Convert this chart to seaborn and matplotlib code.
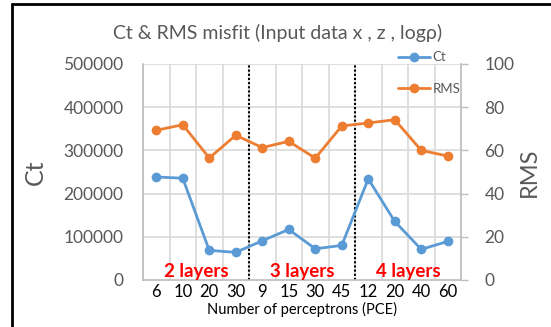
import numpy as np
import pandas as pd
import matplotlib
matplotlib.use("Agg")
import matplotlib.pyplot as plt
import seaborn as sns
from matplotlib.lines import Line2D

categories = ["6", "10", "20", "30", "9", "15", "30", "45", "12", "20", "40", "60"]
ct_values = [238500, 235600, 68600, 64000, 90800, 117000, 72300, 80100, 234000, 135600, 70900, 89400]
rms_values = [69.3, 71.9, 56.5, 67.0, 61.3, 64.2, 56.4, 71.3, 72.7, 74.2, 60.0, 57.4]
group_labels = ["2 layers", "3 layers", "4 layers"]
group_sizes = [4, 4, 4]
ct_ticks = [0, 100000, 200000, 300000, 400000, 500000]
rms_ticks = [0, 20, 40, 60, 80, 100]

sns.set_theme(style="white")
plt.rcParams['font.family'] = ['Lato', 'DejaVu Sans']

df = pd.DataFrame({"pos": np.arange(len(categories)), "Ct": ct_values, "RMS": rms_values})

fig = plt.figure(figsize=(5.51, 3.27), dpi=100)
ax = fig.add_axes([143/551, 1-280/327, (461-143)/551, (280-64)/327])
ax2 = ax.twinx()

blue = "#5B9BD5"
orange = "#ED7D31"
gray_txt = "#595959"
grid_c = "#D9D9D9"

# grid lines
for t in ct_ticks[1:]:
    ax.axhline(t, color=grid_c, lw=1.2, zorder=0)
for b in np.arange(len(categories) + 1) - 0.5:
    ax.axvline(b, color=grid_c, lw=1.2, zorder=0)

sns.lineplot(data=df, x="pos", y="Ct", ax=ax, color=blue, marker="o", markersize=7,
             markeredgewidth=0, lw=2, label="Ct", legend=False, zorder=3)
sns.lineplot(data=df, x="pos", y="RMS", ax=ax2, color=orange, marker="o", markersize=7,
             markeredgewidth=0, lw=2, label="RMS", legend=False, zorder=3)

ax.set_xlim(-0.5, len(categories) - 0.5)
ax.set_ylim(0, 500000)
ax2.set_ylim(0, 100)
ax.set_yticks(ct_ticks)
ax.set_yticklabels([str(t) for t in ct_ticks], color=gray_txt, fontsize=12.5)
ax2.set_yticks(rms_ticks)
ax2.set_yticklabels([str(t) for t in rms_ticks], color=gray_txt, fontsize=12.5)
ax.set_xticks(np.arange(len(categories)))
ax.set_xticklabels(categories, fontsize=12, color="black")
ax.tick_params(axis="x", length=0, pad=3)
ax.tick_params(axis="y", length=0, pad=14)
ax2.tick_params(axis="y", length=5, width=1, color="#BFBFBF", pad=12, direction="out")

for a in (ax, ax2):
    for s in a.spines.values():
        s.set_visible(False)
ax2.spines["right"].set_visible(True)
ax2.spines["right"].set_color("#BFBFBF")
ax.spines["left"].set_visible(True)
ax.spines["left"].set_color("#BFBFBF")
ax.spines["bottom"].set_visible(True)
ax.spines["bottom"].set_color("#BFBFBF")

ax.set_xlabel("Number of perceptrons (PCE)", fontsize=10.5, color="black", labelpad=1)
ax.set_ylabel("Ct", fontsize=18, color=gray_txt, labelpad=12)
ax2.set_ylabel("RMS", fontsize=17, color=gray_txt, labelpad=3)

# group separators and labels
edges = np.cumsum(group_sizes)
for e in edges[:-1]:
    ax.axvline(e - 0.5, color="black", lw=1.5, ls=(0, (1, 1)), zorder=2)
start = 0
for lab, n in zip(group_labels, group_sizes):
    ax.text(start + (n - 1) / 2, 19000, lab, color="#FF0000", fontsize=13.5,
            fontweight="bold", ha="center", va="center", zorder=4)
    start += n

fig.suptitle("Ct & RMS misfit (Input data x , z , logρ)", x=278/551, y=1-33/327,
             va="center", fontsize=14, color=gray_txt)

handles = [Line2D([], [], color=blue, marker="o", markersize=7, lw=2, markeredgewidth=0),
           Line2D([], [], color=orange, marker="o", markersize=7, lw=2, markeredgewidth=0)]
leg = fig.legend(handles, ["Ct", "RMS"], loc="upper left", bbox_to_anchor=(393/551, 1-46/327),
                 borderaxespad=0, frameon=False, fontsize=9.5, handlelength=2.4,
                 handletextpad=0.2, labelspacing=1.5, labelcolor=gray_txt)

# outer frame (partially visible)
fig.add_artist(Line2D([12/551, 12/551], [0, 1-4/327], color="black", lw=2, transform=fig.transFigure))
fig.add_artist(Line2D([12/551, 1], [1-4/327, 1-4/327], color="black", lw=2, transform=fig.transFigure))

fig.savefig("out.png", dpi=100)
